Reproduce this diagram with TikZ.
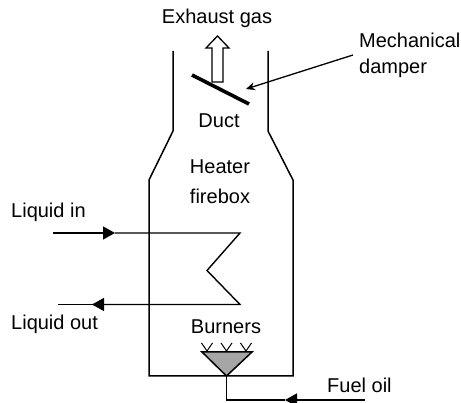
\documentclass[tikz,border=0pt]{standalone}
\usepackage{fontspec}
\setmainfont{Liberation Sans}
\usetikzlibrary{arrows.meta}
\tikzset{
	label text/.style={inner sep=0pt,font=\fontsize{20}{17}\selectfont,text=black},
	wall/.style={draw=black,line width=1.5pt},
	flow/.style={draw=black,line width=1.4pt,-{Triangle[length=12pt,width=13pt]}},
	plain flow/.style={draw=black,line width=1.4pt}
}
\begin{document}
\begin{tikzpicture}[x=1pt,y=-1pt]
	\useasboundingbox (0,0) rectangle (461,403);
	% heater outline
	\draw[wall] (173,51) -- (173,131) -- (149,180) -- (149,376) -- (293,376)
	      -- (293,180) -- (268,131) -- (268,51);
	% damper and exhaust arrow
	\draw[wall,line width=1.3pt,fill=white] (212,82) -- (212,48) -- (206,48) -- (217.5,36) -- (229,48)
	      -- (223,48) -- (223,82) -- cycle;
	\coordinate (damperL) at (192,75);
	\coordinate (damperR) at (249,104);
	\draw[line width=3.6pt] (damperL) -- (damperR);
	% coil
	\coordinate (inStart) at (53,233);
	\coordinate (inArrow) at (115,233);
	\coordinate (coilA) at (240,233);
	\coordinate (coilB) at (207,270.5);
	\coordinate (coilC) at (240,304.5);
	\coordinate (outArrow) at (92,304.5);
	\coordinate (outEnd) at (58,304.5);
	\draw[flow] (inStart) -- (inArrow);
	\draw[plain flow] (inArrow) -- (coilA) -- (coilB) -- (coilC) -- (outArrow);
	\draw[flow] (coilC) -- (outArrow);
	\draw[plain flow] (outArrow) -- (outEnd);
	% burner
	\coordinate (burnerL) at (202,352);
	\coordinate (burnerR) at (252,352);
	\coordinate (burnerTip) at (226.5,376);
	\draw[wall,fill=black!35] (burnerL) -- (burnerR) -- (burnerTip) -- cycle;
	\foreach \x in {207,226.5,246}
		\draw[line width=1pt] (\x-5.5,343) -- (\x,351) -- (\x+5.5,343);
	% fuel line
	\coordinate (fuelCorner) at (226.5,400);
	\coordinate (fuelArrow) at (285,400);
	\coordinate (fuelEnd) at (365,400);
	\draw[plain flow] (burnerTip) -- (fuelCorner) -- (fuelArrow);
	\draw[flow] (fuelEnd) -- (fuelArrow);
	% labels
	\node[label text] (exhaust) at (217,18) {Exhaust gas};
	\node[label text,align=left,anchor=west] (mech) at (359,55) {Mechanical\\[9pt]damper};
	\node[label text] (duct) at (219,121) {Duct};
	\node[label text,align=center] (firebox) at (220,182) {Heater\\[13pt]firebox};
	\node[label text,anchor=west] (liquidin) at (11,212) {Liquid in};
	\node[label text,anchor=west] (liquidout) at (11,324) {Liquid out};
	\node[label text] (burners) at (226,327) {Burners};
	\node[label text,anchor=west] (fuel) at (327,385) {Fuel oil};
	% pointer to damper
	\coordinate (pointerTip) at (246,89);
	\coordinate (pointerEnd) at (353,55);
	\draw[line width=1.3pt,-{Stealth[length=9pt,width=8pt]}] (pointerEnd) -- (pointerTip);
\end{tikzpicture}
\end{document}
